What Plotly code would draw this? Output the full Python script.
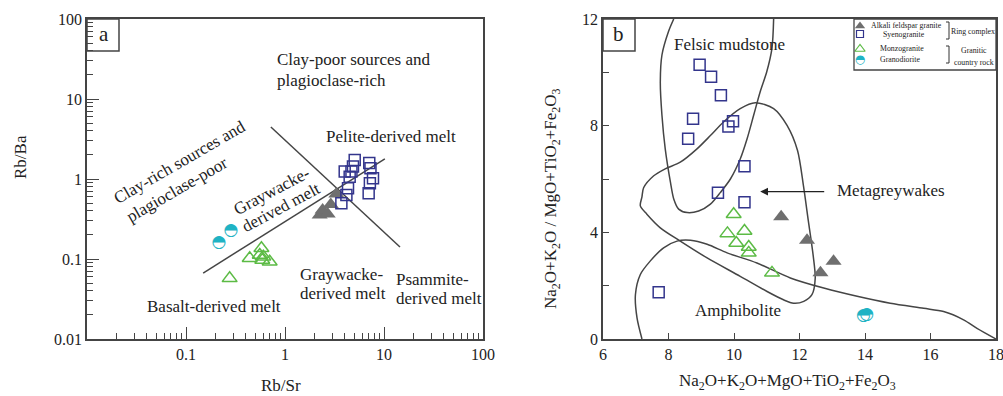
import plotly.graph_objects as go

W, H = 1003, 396

# ---------------- Panel a data (Rb/Sr vs Rb/Ba) ----------------
a_afg_rbsr = [2.24, 2.40, 2.70, 2.90, 3.30]
a_afg_rbba = [0.356, 0.41, 0.366, 0.48, 0.65]

a_syn_rbsr = [5.06, 4.86, 7.1, 7.3, 4.01, 4.69, 4.50, 7.74, 7.2, 4.33, 7.0, 4.17, 3.71]
a_syn_rbba = [1.73, 1.43, 1.58, 1.36, 1.24, 1.24, 1.07, 1.02, 0.885, 0.767, 0.664, 0.632, 0.498]

a_mzg_rbsr = [0.276, 0.44, 0.578, 0.556, 0.604, 0.70, 0.59]
a_mzg_rbba = [0.0573, 0.102, 0.136, 0.112, 0.107, 0.0925, 0.097]

a_grd_rbsr = [0.215, 0.285]
a_grd_rbba = [0.158, 0.224]

a_line1_x = [0.149, 10.2]
a_line1_y = [0.0668, 1.78]
a_line2_x = [0.72, 14.5]
a_line2_y = [4.47, 0.141]

# ---------------- Panel b data ----------------
b_afg_x = [11.44, 12.23, 13.04, 12.64]
b_afg_y = [4.58, 3.70, 2.92, 2.48]

b_syn_x = [8.95, 9.30, 9.60, 8.75, 8.60, 9.97, 9.83, 10.32, 9.51, 10.32, 7.70]
b_syn_y = [10.28, 9.83, 9.14, 8.26, 7.51, 8.17, 7.97, 6.48, 5.48, 5.13, 1.75]

b_mzg_x = [9.99, 9.80, 10.32, 10.07, 10.45, 10.45, 11.16]
b_mzg_y = [4.68, 3.96, 4.05, 3.60, 3.45, 3.23, 2.48]

b_grd_x = [13.95, 14.05]
b_grd_y = [0.86, 0.90]

felsic_x = [8.16, 8.00, 7.80, 7.75, 7.80, 7.90, 8.06, 8.16, 8.31, 8.57, 8.92, 9.28,
            9.58, 9.89, 10.19, 10.40, 10.60, 10.80, 11.00, 11.16, 11.21]
felsic_y = [12.0, 11.53, 10.65, 9.65, 8.39, 7.13, 5.87, 5.25, 4.87, 4.74, 4.80, 5.06,
            5.49, 6.00, 6.75, 7.51, 8.39, 9.27, 10.02, 10.91, 12.0]

meta_x = [7.19, 7.24, 7.55, 7.90, 8.36, 8.87, 9.28, 9.68, 10.19, 10.65, 11.21, 11.62,
          11.94, 12.12, 12.27, 12.42, 12.48, 12.38, 12.13, 11.82, 11.51, 11.01, 10.19,
          9.18, 8.36, 7.75, 7.34, 7.14, 7.19]
meta_y = [5.33, 5.67, 6.12, 6.38, 6.63, 7.13, 7.63, 8.14, 8.64, 8.86, 8.64, 8.01,
          7.07, 5.75, 4.43, 3.11, 2.28, 1.66, 1.41, 1.34, 1.47, 1.78, 2.35,
          3.04, 3.67, 4.17, 4.68, 4.99, 5.33]

amph_x = [7.19, 7.04, 6.99, 7.14, 7.44, 7.85, 8.26, 8.67, 9.18, 9.79, 10.70, 11.72,
          12.74, 13.76, 14.77, 15.79, 16.40, 17.01, 17.42, 18.0]
amph_y = [0.0, 0.78, 1.66, 2.42, 2.92, 3.42, 3.67, 3.70, 3.55, 3.23, 2.85, 2.29,
          1.91, 1.60, 1.34, 1.15, 1.03, 0.72, 0.40, 0.0]

# tick labels
a_xticks = [0.1, 1, 10, 100]
a_xticklabels = ["0.1", "1", "10", "100"]
a_yticks = [0.01, 0.1, 1, 10, 100]
a_yticklabels = ["0.01", "0.1", "1", "10", "100"]
b_xticks = [6, 8, 10, 12, 14, 16, 18]
b_yticks = [0, 4, 8, 12]

legend_names = ["Alkali feldspar granite", "Syenogranite", "Monzogranite", "Granodiorite"]

# ---------------- styles ----------------
SERIF = "Liberation Serif, Times New Roman, serif"
C_AFG = "#6f6f6f"
C_SYN = "#33358c"
C_MZG = "#5cbb45"
C_GRD = "#1fb3c4"
C_LINE = "#454545"
C_AX = "#444444"
HALF = "\u25D3"

fig = go.Figure()

def add_panel(xa, ya, afg, syn, mzg, grd):
    fig.add_trace(go.Scatter(x=afg[0], y=afg[1], mode="markers", xaxis=xa, yaxis=ya,
                             marker=dict(symbol="triangle-up", size=14, color=C_AFG,
                                         line=dict(width=0)), showlegend=False))
    fig.add_trace(go.Scatter(x=syn[0], y=syn[1], mode="markers", xaxis=xa, yaxis=ya,
                             marker=dict(symbol="square-open", size=11, color=C_SYN,
                                         line=dict(width=1.5, color=C_SYN)), showlegend=False))
    fig.add_trace(go.Scatter(x=mzg[0], y=mzg[1], mode="markers", xaxis=xa, yaxis=ya,
                             marker=dict(symbol="triangle-up-open", size=13, color=C_MZG,
                                         line=dict(width=1.5, color=C_MZG)), showlegend=False))
    fig.add_trace(go.Scatter(x=grd[0], y=grd[1], mode="text", xaxis=xa, yaxis=ya,
                             text=[HALF] * len(grd[0]), textposition="middle center",
                             textfont=dict(family="DejaVu Sans", size=17, color=C_GRD),
                             showlegend=False))

# panel a lines
for lx, ly in ((a_line1_x, a_line1_y), (a_line2_x, a_line2_y)):
    fig.add_trace(go.Scatter(x=lx, y=ly, mode="lines", xaxis="x", yaxis="y",
                             line=dict(color=C_LINE, width=1.5), showlegend=False))
add_panel("x", "y", (a_afg_rbsr, a_afg_rbba), (a_syn_rbsr, a_syn_rbba),
          (a_mzg_rbsr, a_mzg_rbba), (a_grd_rbsr, a_grd_rbba))

# panel b field boundaries
for cx, cy in ((felsic_x, felsic_y), (meta_x, meta_y), (amph_x, amph_y)):
    fig.add_trace(go.Scatter(x=cx, y=cy, mode="lines", xaxis="x2", yaxis="y2",
                             line=dict(color=C_LINE, width=1.5, shape="spline", smoothing=0.8),
                             showlegend=False))
add_panel("x2", "y2", (b_afg_x, b_afg_y), (b_syn_x, b_syn_y),
          (b_mzg_x, b_mzg_y), (b_grd_x, b_grd_y))

# ---------------- legend keys (pixel overlay axes) ----------------
leg_key_x = [860, 860, 860, 860]
leg_key_y = [26, 34, 49, 60]
fig.add_trace(go.Scatter(x=[leg_key_x[0]], y=[leg_key_y[0]], mode="markers", xaxis="x3", yaxis="y3",
                         marker=dict(symbol="triangle-up", size=9, color=C_AFG), showlegend=False))
fig.add_trace(go.Scatter(x=[leg_key_x[1]], y=[leg_key_y[1]], mode="markers", xaxis="x3", yaxis="y3",
                         marker=dict(symbol="square-open", size=7, color=C_SYN,
                                     line=dict(width=1.2, color=C_SYN)), showlegend=False))
fig.add_trace(go.Scatter(x=[leg_key_x[2]], y=[leg_key_y[2]], mode="markers", xaxis="x3", yaxis="y3",
                         marker=dict(symbol="triangle-up-open", size=9, color=C_MZG,
                                     line=dict(width=1.2, color=C_MZG)), showlegend=False))
fig.add_trace(go.Scatter(x=[leg_key_x[3]], y=[leg_key_y[3]], mode="text", xaxis="x3", yaxis="y3",
                         text=[HALF], textposition="middle center",
                         textfont=dict(family="DejaVu Sans", size=12, color=C_GRD), showlegend=False))

# ---------------- axes ----------------
def dom_x(a, b):
    return [a / W, b / W]

YDOM = [1 - 339 / H, 1 - 19 / H]
tickfont = dict(family=SERIF, size=16, color="#222")
common = dict(showgrid=False, zeroline=False, showline=True, linecolor=C_AX, linewidth=1.5,
              mirror=True, ticks="inside", tickcolor=C_AX, tickwidth=1.2, tickfont=tickfont,
              automargin=False, ticklabeloverflow="allow")

a_minor = [k * 10.0 ** e for e in range(-2, 2) for k in range(2, 10)]

fig.update_layout(
    width=W, height=H, margin=dict(l=0, r=0, t=0, b=0),
    paper_bgcolor="white", plot_bgcolor="rgba(0,0,0,0)",
    font=dict(family=SERIF, color="#222"),
    xaxis=dict(domain=dom_x(87, 483), type="log", range=[-2, 2], anchor="y",
               tickmode="array", tickvals=a_xticks, ticktext=a_xticklabels, ticklen=12,
               minor=dict(tickmode="array", tickvals=a_minor, ticks="inside", ticklen=6,
                          tickcolor=C_AX, tickwidth=1), **common),
    yaxis=dict(domain=YDOM, type="log", range=[-2, 2], anchor="x",
               tickmode="array", tickvals=a_yticks, ticktext=a_yticklabels, ticklen=12,
               minor=dict(tickmode="array", tickvals=a_minor, ticks="inside", ticklen=6,
                          tickcolor=C_AX, tickwidth=1), **common),
    xaxis2=dict(domain=dom_x(603, 996), range=[6, 18], anchor="y2",
                tickmode="array", tickvals=b_xticks, ticklen=6, **common),
    yaxis2=dict(domain=YDOM, range=[0, 12], anchor="x2",
                tickmode="array", tickvals=b_yticks, ticklen=6,
                minor=dict(tickmode="array", tickvals=[2, 6, 10], ticks="inside", ticklen=6,
                           tickcolor=C_AX, tickwidth=1.2), **common),
    xaxis3=dict(domain=[0, 1], range=[0, W], anchor="y3", visible=False, fixedrange=True),
    yaxis3=dict(domain=[0, 1], range=[H, 0], anchor="x3", visible=False, fixedrange=True),
)

# ---------------- annotations ----------------
ann = []

def txt(x, y, s, size=17, xanchor="center", angle=0, color="#222", family=SERIF):
    ann.append(dict(x=x, y=y, xref="x3", yref="y3", text=s, showarrow=False,
                    xanchor=xanchor, yanchor="middle", textangle=angle,
                    font=dict(family=family, size=size, color=color)))

# axis titles
txt(20, 157, "Rb/Ba", size=17, angle=-90)
txt(281, 385, "Rb/Sr", size=17)
txt(552, 199, "Na<sub>2</sub>O+K<sub>2</sub>O / MgO+TiO<sub>2</sub>+Fe<sub>2</sub>O<sub>3</sub>",
    size=17, angle=-90)
txt(787, 382, "Na<sub>2</sub>O+K<sub>2</sub>O+MgO+TiO<sub>2</sub>+Fe<sub>2</sub>O<sub>3</sub>", size=17)

# panel labels
txt(104, 34, "a", size=21)
txt(618, 34, "b", size=21)

# panel a field names
txt(275, 59, "Clay-poor sources and", xanchor="left")
txt(275, 80, "plagioclase-rich", xanchor="left")
txt(179, 162, "Clay-rich sources and", angle=-30)
txt(177, 189, "plagioclase-poor", angle=-30)
txt(271, 191, "Graywacke-", angle=-28)
txt(281, 207, "derived melt", angle=-28)
txt(391, 136, "Pelite-derived melt")
txt(298, 274, "Graywacke-", xanchor="left")
txt(298, 293, "derived melt", xanchor="left")
txt(394, 279, "Psammite-", xanchor="left")
txt(394, 298, "derived melt", xanchor="left")
txt(214, 306, "Basalt-derived melt")

# panel b field names
txt(672, 44, "Felsic mudstone", xanchor="left")
txt(835, 190, "Metagreywakes", xanchor="left")
txt(693, 310, "Amphibolite", xanchor="left")

# legend texts
LS = 7.8
txt(869, 25, legend_names[0], size=LS, xanchor="left")
txt(881, 34, legend_names[1], size=LS, xanchor="left")
txt(878, 48, legend_names[2], size=LS, xanchor="left")
txt(878, 59, legend_names[3], size=LS, xanchor="left")
txt(973, 31, "Ring complex", size=LS)
txt(974, 50, "Granitic", size=LS)
txt(974, 62, "country rock", size=LS)

# arrow to Metagreywakes
ann.append(dict(x=10.8, y=5.53, xref="x2", yref="y2", ax=12.8, ay=5.53, axref="x2", ayref="y2",
                text="", showarrow=True, arrowhead=2, arrowsize=1.2, arrowwidth=1.3,
                arrowcolor="#222"))

fig.update_layout(annotations=ann)

# ---------------- shapes ----------------
shp = []
def rect(x0, y0, x1, y1, w=1.5):
    shp.append(dict(type="rect", xref="x3", yref="y3", x0=x0, y0=y0, x1=x1, y1=y1,
                    line=dict(color=C_AX, width=w), fillcolor="rgba(0,0,0,0)"))

rect(87, 19, 119, 51)
rect(603, 19, 635, 51)
rect(854, 19, 996, 70, w=1.3)
# brackets
for (yb0, yb1) in ((22, 39), (46, 63)):
    shp.append(dict(type="path", xref="x3", yref="y3",
                    path=f"M 946 {yb0} L 949 {yb0} L 949 {yb1} L 946 {yb1}",
                    line=dict(color="#333", width=1)))
fig.update_layout(shapes=shp)

fig.write_html("out.html")
